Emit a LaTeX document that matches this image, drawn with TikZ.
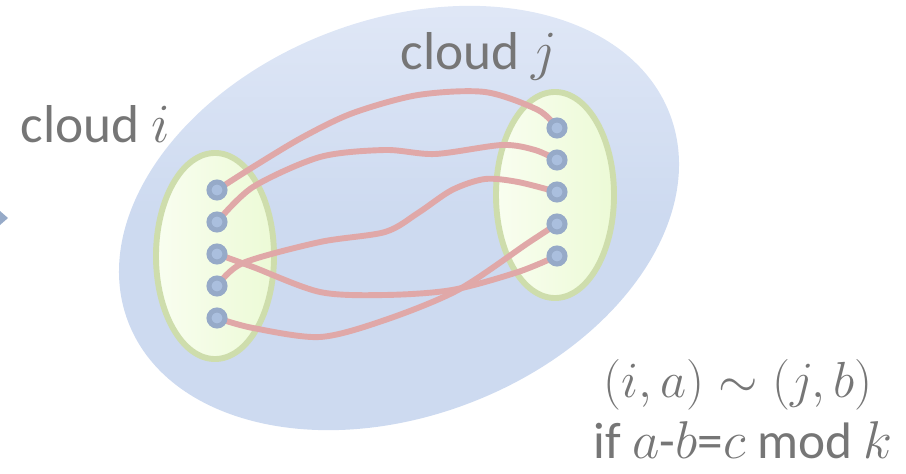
\documentclass[tikz,border=0pt]{standalone}
\usepackage{fontspec}
\setmainfont{Carlito}
\usepackage{xcolor}
\usepackage{tikz}
\usetikzlibrary{shapes.geometric, positioning}
\definecolor{HullBlue}{RGB}{205,218,240}
\definecolor{HullLight}{RGB}{226,233,247}
\definecolor{CloudRim}{RGB}{206,221,172}
\definecolor{CloudIn}{RGB}{249,254,240}
\definecolor{CloudOut}{RGB}{236,250,214}
\definecolor{DotRim}{RGB}{150,170,200}
\definecolor{DotFill}{RGB}{170,191,222}
\definecolor{LinkPink}{RGB}{224,168,168}
\definecolor{TextGray}{RGB}{118,118,118}
\pgfdeclarelayer{hull}
\pgfdeclarelayer{links}
\pgfsetlayers{hull,links,main}

\begin{document}
\begin{tikzpicture}[x=0.025cm, y=-0.025cm,
    cloudbox/.style={ellipse, draw=CloudRim, line width=4.2pt,
                     minimum width=2.95cm, minimum height=5.15cm,
                     left color=CloudIn, right color=CloudOut},
    pt/.style={circle, draw=DotRim, fill=DotFill, line width=3.6pt,
               minimum size=0.4cm, inner sep=0pt},
    link/.style={draw=LinkPink, line width=4.2pt},
    lbl/.style={text=TextGray, inner sep=0pt,
                font=\fontsize{24}{28}\selectfont, transform shape}
  ]
  \useasboundingbox (0,0) rectangle (906,473);

  \begin{pgfonlayer}{hull}
    \shade[rotate around={21:(399,218)}, top color=HullLight,
           bottom color=HullBlue, middle color=HullBlue]
      (399,218) ellipse [x radius=7.25cm, y radius=4.95cm];
    \node[cloudbox] (cloudi) at (215,256) {};
    \node[cloudbox] (cloudj) at (555,195) {};
    \fill[DotRim] (0,211) -- (8,218) -- (0,225) -- cycle;
  \end{pgfonlayer}

  \foreach \k/\y in {1/190, 2/222, 3/254, 4/286, 5/318}
    \node[pt] (l\k) at (217,\y) {};
  \foreach \k/\y in {1/128, 2/160, 3/192, 4/224, 5/256}
    \node[pt] (r\k) at (557,\y) {};

  \begin{pgfonlayer}{links}
    \draw[link] plot[smooth] coordinates {(l1.center) (253,167) (303,137)
      (353,113) (418,95) (485,92) (538,110) (r1.center)};
    \draw[link] plot[smooth] coordinates {(l2.center) (253,187) (320,157)
      (385,150) (435,154) (502,145) (535,150) (r2.center)};
    \draw[link] plot[smooth] coordinates {(l3.center) (253,267) (320,292)
      (385,295) (452,290) (518,272) (r5.center)};
    \draw[link] plot[smooth] coordinates {(l4.center) (243,263) (320,242)
      (385,232) (418,213) (452,190) (485,179) (518,182) (r3.center)};
    \draw[link] plot[smooth] coordinates {(l5.center) (253,328) (320,337)
      (385,320) (458,290) (528,243) (r4.center)};
  \end{pgfonlayer}

  \node[lbl, anchor=base west, scale=1.58] (labi) at (20,142) {cloud $i$};
  \node[lbl, anchor=base west, scale=1.58] (labj) at (400,70) {cloud $j$};
  \node[lbl, anchor=base, scale=1.45] (rule) at (738,397)
    {$(i,a)\sim(j,b)$};
  \node[lbl, anchor=base, scale=1.52] (cond) at (743,458)
    {if $a$-$b$=$c$ $\mathrm{mod}$ $k$};
\end{tikzpicture}
\end{document}
